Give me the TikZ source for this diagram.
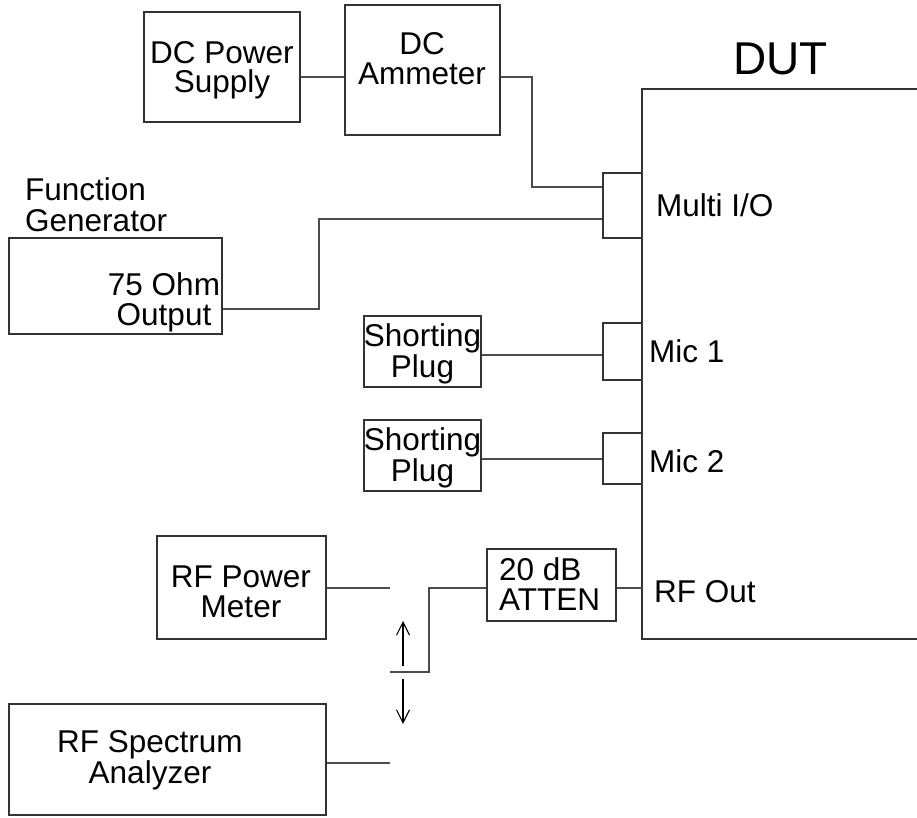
\documentclass[tikz,border=0pt]{standalone}
\usepackage{fontspec}
\setmainfont{Liberation Sans}
\usetikzlibrary{arrows.meta}
\tikzset{
  box/.style={draw=black!80, line width=1.1pt, inner sep=0pt, rectangle},
  wire/.style={draw=black!70, line width=1.1pt},
  txt/.style={inner sep=0pt, align=center, font=\fontsize{31.5}{30}\selectfont},
  ltxt/.style={inner sep=0pt, align=left, font=\fontsize{31.5}{30}\selectfont},
  swarrow/.style={draw=black, line width=1.1pt, -{Straight Barb[length=13pt,width=13pt]}}
}
\begin{document}
\begin{tikzpicture}[x=1pt,y=-1pt]
\useasboundingbox (0,0) rectangle (917,818);

% boxes
\node[box, minimum width=156pt, minimum height=110pt] (ps) at (222,67) {};
\node[box, minimum width=155pt, minimum height=130pt] (amm) at (422.5,70) {};
\node[box, minimum width=213pt, minimum height=96pt] (fg) at (115.5,286) {};
\node[box, minimum width=117pt, minimum height=71pt] (sp1) at (422.5,351.5) {};
\node[box, minimum width=117pt, minimum height=71pt] (sp2) at (422.5,455.5) {};
\node[box, minimum width=39pt, minimum height=65pt] (mio) at (622.5,205.5) {};
\node[box, minimum width=39pt, minimum height=57pt] (m1) at (622.5,351.5) {};
\node[box, minimum width=39pt, minimum height=51pt] (m2) at (622.5,458.5) {};
\node[box, minimum width=129pt, minimum height=72pt] (att) at (551.5,585) {};
\node[box, minimum width=169pt, minimum height=103pt] (pm) at (241.5,587.5) {};
\node[box, minimum width=317pt, minimum height=111pt] (sa) at (167.5,759.5) {};

% DUT (open on the right)
\coordinate (dutTL) at (642,89);
\coordinate (dutBL) at (642,639);
\draw[box] (917,89) -- (dutTL) -- (dutBL) -- (917,639);
\node[inner sep=0pt, anchor=base, font=\fontsize{46}{46}\selectfont] (dutt) at (780.5,75) {DUT};

% texts (anchor=base is the baseline of the last line)
\node[txt, anchor=base, font=\fontsize{31.5}{29.5}\selectfont] (pst) at (222,93) {DC Power\\Supply};
\node[txt, anchor=base] (ammt) at (422,85) {DC\\Ammeter};
\node[ltxt, anchor=base west] (fgl) at (25,231) {Function\\Generator};
\node[txt, anchor=base] (fgt) at (164,325) {75 Ohm\\Output};
\node[txt, anchor=base, font=\fontsize{31.5}{31}\selectfont] (sp1t) at (422.5,377) {Shorting\\Plug};
\node[txt, anchor=base, font=\fontsize{31.5}{31}\selectfont] (sp2t) at (422.5,481) {Shorting\\Plug};
\node[txt, anchor=base] (pmt) at (241,617) {RF Power\\Meter};
\node[txt, anchor=base, font=\fontsize{31.5}{26}\selectfont] (sat) at (150,783) {RF Spectrum\\Analyzer};
\node[ltxt, anchor=base west, font=\fontsize{31.5}{29.3}\selectfont] (attt) at (499,610) {20 dB\\ATTEN};
\node[ltxt, anchor=base west] (miot) at (656,217) {Multi I/O};
\node[ltxt, anchor=base west] (m1t) at (649,362) {Mic 1};
\node[ltxt, anchor=base west] (m2t) at (649,472) {Mic 2};
\node[ltxt, anchor=base west] (rft) at (654,602) {RF Out};

% connectors
\draw[wire] (ps.east |- 0,77) -- (amm.west |- 0,77);
\draw[wire] (amm.east |- 0,77) -- (532,77) -- (532,187) -- (mio.west |- 0,187);
\draw[wire] (fg.east |- 0,309) -- (319,309) -- (319,219) -- (mio.west |- 0,219);
\draw[wire] (sp1.east |- 0,355) -- (m1.west |- 0,355);
\draw[wire] (sp2.east |- 0,459) -- (m2.west |- 0,459);
\draw[wire] (att.east |- 0,588) -- (dutTL |- 0,588);

% RF switch
\coordinate (swA) at (390,588);
\coordinate (swB) at (390,763);
\coordinate (swC) at (390,672);
\draw[wire] (pm.east |- 0,588) -- (swA);
\draw[wire] (sa.east |- 0,763) -- (swB);
\draw[wire] (swC) -- (429,672) -- (429,588) -- (att.west |- 0,588);
\coordinate (upS) at (403,666);
\coordinate (upE) at (403,621);
\coordinate (dnS) at (403,679);
\coordinate (dnE) at (403,724);
\draw[swarrow] (upS) -- (upE);
\draw[swarrow] (dnS) -- (dnE);
\end{tikzpicture}
\end{document}
